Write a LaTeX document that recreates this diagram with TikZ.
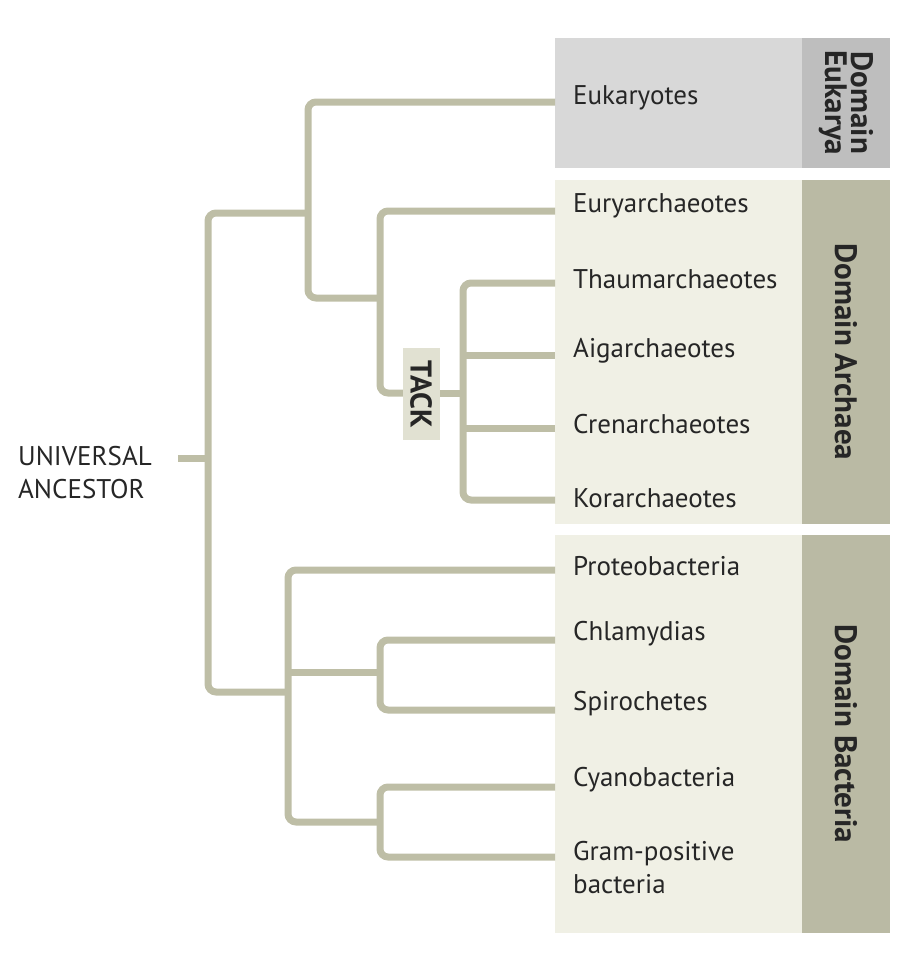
\documentclass[tikz,border=0pt]{standalone}
\usepackage{fontspec}
\setmainfont{PT Sans}
\usetikzlibrary{positioning}
\definecolor{branch}{RGB}{190,190,166}
\definecolor{eukbg}{RGB}{216,216,216}
\definecolor{euktab}{RGB}{190,190,190}
\definecolor{domainbg}{RGB}{240,240,229}
\definecolor{domaintab}{RGB}{186,186,164}
\tikzset{
  branchline/.style={draw=branch, line width=7pt, rounded corners=8pt},
  taxon/.style={anchor=west, inner sep=0pt, font=\fontsize{27}{30}\selectfont, text=black!85},
  domainlbl/.style={rotate=-90, font=\bfseries\fontsize{31}{26}\selectfont, align=center, text=black!85},
}
\begin{document}
\begin{tikzpicture}[x=1pt,y=1pt,yscale=-1]
\useasboundingbox (0,0) rectangle (912,956);

% domain panels
\fill[eukbg] (555,38) rectangle (802,168);
\fill[euktab] (802,38) rectangle (890,168);
\fill[domainbg] (555,180) rectangle (802,524);
\fill[domaintab] (802,180) rectangle (890,524);
\fill[domainbg] (555,535) rectangle (802,933);
\fill[domaintab] (802,535) rectangle (890,933);
\node[domainlbl] (eukarya) at (846,103) {Domain\\Eukarya};
\node[domainlbl] (archaea) at (846,352) {Domain Archaea};
\node[domainlbl] (bacteria) at (846,734) {Domain Bacteria};

% taxa
\node[taxon] (euk) at (573,98) {Eukaryotes};
\node[taxon] (eury) at (573,206) {Euryarchaeotes};
\node[taxon] (thaum) at (573,279) {Thaumarchaeotes};
\node[taxon] (aig) at (573,351) {Aigarchaeotes};
\node[taxon] (cren) at (573,424) {Crenarchaeotes};
\node[taxon] (kor) at (573,498) {Korarchaeotes};
\node[taxon] (proteo) at (573,566) {Proteobacteria};
\node[taxon] (chlam) at (573,634) {Chlamydias};
\node[taxon] (spiro) at (573,704) {Spirochetes};
\node[taxon] (cyano) at (573,780) {Cyanobacteria};
\node[taxon, align=left, font=\fontsize{27}{33}\selectfont] (gram) at (573,868) {Gram-positive\\bacteria};
\node[taxon, align=left, font=\fontsize{27}{33}\selectfont] (root) at (18,473) {UNIVERSAL\\ANCESTOR};

% tree
\draw[branchline] (178,458) -- (208,458);
\draw[branchline] (308,213) -- (208,213) -- (208,692) -- (288,692);
\draw[branchline] (555,102) -- (308,102) -- (308,298) -- (380,298);
\draw[branchline] (555,211) -- (380,211) -- (380,393) -- (405,393);
\fill[domainbg!70!branch] (403,348) rectangle (440,440);
\node[rotate=-90, font=\bfseries\fontsize{30}{30}\selectfont, text=black!85] (tack) at (421,394) {TACK};
\draw[branchline] (440,393) -- (463,393);
\draw[branchline] (555,283) -- (463,283) -- (463,500) -- (555,500);
\draw[branchline] (463,355) -- (555,355);
\draw[branchline] (463,428) -- (555,428);
\draw[branchline] (555,570) -- (288,570) -- (288,822) -- (380,822);
\draw[branchline] (288,672) -- (380,672);
\draw[branchline] (555,640) -- (380,640) -- (380,710) -- (555,710);
\draw[branchline] (555,787) -- (380,787) -- (380,857) -- (555,857);
\end{tikzpicture}
\end{document}
